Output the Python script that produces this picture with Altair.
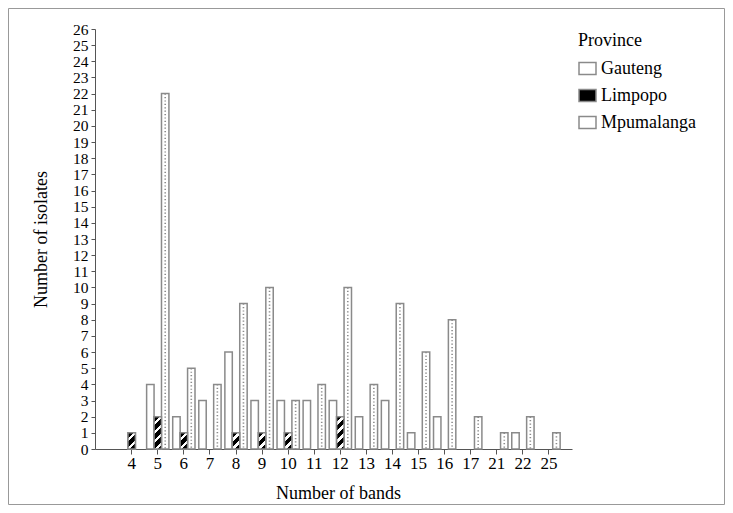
import altair as alt
import pandas as pd

bands = ["4", "5", "6", "7", "8", "9", "10", "11", "12", "13", "14", "15", "16", "17", "21", "22", "25"]
provinces = ["Gauteng", "Limpopo", "Mpumalanga"]
gauteng = [0, 4, 2, 3, 6, 3, 3, 3, 3, 2, 3, 1, 2, 0, 0, 1, 0]
limpopo = [1, 2, 1, 0, 1, 1, 1, 0, 2, 0, 0, 0, 0, 0, 0, 0, 0]
mpumalanga = [0, 22, 5, 4, 9, 10, 3, 4, 10, 4, 9, 6, 8, 2, 1, 2, 1]
y_ticks = list(range(0, 27))

rows = []
for prov, vals in zip(provinces, [gauteng, limpopo, mpumalanga]):
    for b, v in zip(bands, vals):
        if v > 0:
            rows.append({"band": b, "province": prov, "count": v})
df = pd.DataFrame(rows)

W, H = 477, 420
FONT = "Liberation Serif"
STROKE = "#8a8a8a"

x_scale = alt.Scale(domain=bands, paddingInner=0.145, paddingOuter=0.717, align=0.683)
off_scale = alt.Scale(domain=provinces, paddingInner=0, paddingOuter=0)
y_scale = alt.Scale(domain=[0, 26], nice=False)

x_enc = alt.X("band:N", sort=bands, scale=x_scale,
              axis=alt.Axis(title="Number of bands", labelAngle=0, tickSize=5, labelPadding=1,
                            labelOverlap=False,
                            titleX=243, titleY=44, titleBaseline="middle", titleAlign="center"))
off_enc = alt.XOffset("province:N", scale=off_scale)
y_enc = alt.Y("count:Q", scale=y_scale,
              axis=alt.Axis(title="Number of isolates", values=y_ticks, tickSize=4, labelPadding=3,
                            labelOverlap=False, labelFontSize=15.5,
                            grid=False, titleX=-54, titleY=H / 2, titleBaseline="middle",
                            titleAlign="center"))


def hatch(hpx, w=7.43, period=9.0, white_frac=0.4):
    s = w + hpx
    a = w * s / (w * w + hpx * hpx)
    b = a * hpx / w
    p = period / s
    stops = []
    t = 0.0
    while t < 1.0:
        t1 = min(t + p * (1 - white_frac), 1.0)
        t2 = min(t + p, 1.0)
        stops += [(t, "black"), (t1, "black"), (t1, "white"), (t2, "white")]
        t += p
    return alt.LinearGradient(
        gradient="linear",
        stops=[alt.GradientStop(offset=o, color=c) for o, c in stops],
        x1=0, y1=0, x2=a, y2=b,
    )


base = alt.Chart(df)

bars = base.mark_bar(stroke=STROKE, strokeWidth=1.5).encode(
    x=x_enc, xOffset=off_enc, y=y_enc,
    fill=alt.Fill("province:N", scale=alt.Scale(domain=provinces, range=["white", "black", "white"]),
                  legend=alt.Legend(title="Province")),
)

unit = H / 26.0
hatch1 = base.transform_filter("datum.province == 'Limpopo' && datum.count == 1").mark_bar(
    fill=hatch(unit), stroke=STROKE, strokeWidth=1.5
).encode(x=x_enc, xOffset=off_enc, y=y_enc)
hatch2 = base.transform_filter("datum.province == 'Limpopo' && datum.count == 2").mark_bar(
    fill=hatch(2 * unit), stroke=STROKE, strokeWidth=1.5
).encode(x=x_enc, xOffset=off_enc, y=y_enc)

dots = base.transform_filter("datum.province == 'Mpumalanga'").mark_rule(
    color="#8a8a8a", strokeWidth=1.6, strokeDash=[1.2, 2.2]
).encode(x=x_enc, xOffset=off_enc, y=y_enc, y2=alt.datum(0))

frame = alt.Chart(pd.DataFrame({"a": [0]})).mark_rect(
    filled=False, stroke="#999999", strokeWidth=1
).encode(x=alt.value(-86.5), x2=alt.value(W + 152.5), y=alt.value(-20.5), y2=alt.value(H + 55.5))

chart = alt.layer(bars, hatch1, hatch2, dots, frame).properties(
    width=W, height=H,
    autosize=alt.AutoSizeParams(type="none"),
    padding={"left": 87, "top": 21, "right": 153, "bottom": 56},
).configure_view(stroke=None).configure_axis(
    labelFont=FONT, titleFont=FONT, labelFontSize=17, titleFontSize=18,
    titleFontWeight="normal", labelColor="black", titleColor="black",
    domainColor="#555555", tickColor="#555555", domainWidth=1, tickWidth=1,
).configure_legend(
    orient="none", legendX=483, legendY=3, padding=0,
    titleFont=FONT, labelFont=FONT, titleFontSize=18, labelFontSize=18,
    titleFontWeight="normal", titleColor="black", labelColor="black",
    symbolType="M-1,-0.7H1V0.7H-1Z", symbolSize=289, symbolStrokeColor=STROKE,
    symbolStrokeWidth=1.5, rowPadding=8, titlePadding=9, labelOffset=4,
)

chart.save("out.html", embed_options={"renderer": "svg", "actions": False})
